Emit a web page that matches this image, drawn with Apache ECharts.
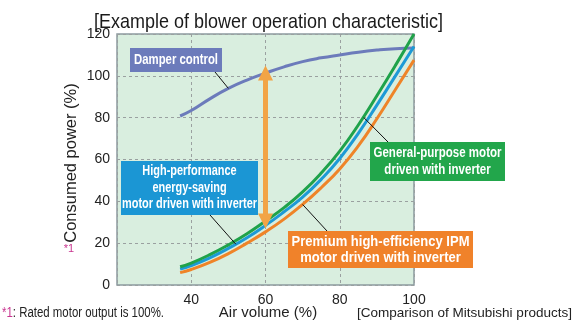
<!DOCTYPE html>
<html>
<head>
<meta charset="utf-8">
<script src="https://cdn.jsdelivr.net/npm/echarts@6/dist/echarts.min.js"></script>
<style>
  html, body { margin: 0; padding: 0; background: #ffffff; }
  #chart { width: 576px; height: 325px; }
</style>
</head>
<body>
<div id="chart"></div>
<script>
// Air volume (%) sample positions along each curve
const airVolume = [37, 40, 45, 50, 55, 60, 65, 70, 75, 80, 85, 90, 95, 100];

// Consumed power (%) for each control method
const damperControl   = [80.8, 83.4, 89, 94, 98, 101.3, 104.3, 106.8, 108.6, 110, 111.3, 112.3, 113, 113.3];
const generalPurpose  = [8.7, 10.5, 14.5, 19.2, 24.5, 30.6, 37, 44.5, 53.5, 64, 76.5, 90.5, 105, 120];
const highPerformance = [7.6, 9.3, 13, 17.5, 22.6, 28.5, 35, 42, 50.5, 60.5, 72.5, 86, 100, 114];
const premiumIPM      = [5.9, 7.4, 10.8, 15, 20, 25.4, 31.5, 38.5, 46.5, 55.5, 66.5, 79.5, 93.5, 107.5];

// Savings arrow at 60 % air volume: from damper curve down to inverter curve
const arrowX = 60;
const arrowTop = 101.3;
const arrowBottom = 30.6;

const pairs = (ys) => airVolume.map((x, i) => [x, ys[i]]);

const chart = echarts.init(document.getElementById('chart'));

const SANS = '"Liberation Sans", Arial, Helvetica, sans-serif';

// Text width helper, used to condense text to a given width
const ctx = document.createElement('canvas').getContext('2d');
function textWidth(text, font) { ctx.font = font; return ctx.measureText(text).width; }

function curve(name, ys, color) {
  return {
    name, type: 'line', data: pairs(ys), smooth: 0.5, showSymbol: false,
    lineStyle: { color, width: 3 }, itemStyle: { color }, silent: true, z: 3
  };
}

chart.setOption({
  animation: false,
  grid: {
    left: 117, right: 162, top: 34, bottom: 40,
    show: true, backgroundColor: '#d9eedf', borderColor: '#8c9ba0', borderWidth: 1.5
  },
  xAxis: {
    type: 'value', min: 20, max: 100, interval: 20,
    axisLine: { show: false }, axisTick: { show: false },
    axisLabel: {
      color: '#222', fontFamily: SANS, fontSize: 14, margin: 8,
      formatter: (v) => (v === 20 ? '' : String(v))
    },
    splitLine: { show: true, lineStyle: { color: '#9aa0a0', type: [3, 3], width: 1 } }
  },
  yAxis: {
    type: 'value', min: 0, max: 120, interval: 20,
    axisLine: { show: false }, axisTick: { show: false },
    axisLabel: { color: '#222', fontFamily: SANS, fontSize: 14, margin: 7 },
    splitLine: { show: true, lineStyle: { color: '#9aa0a0', type: [3, 3], width: 1 } }
  },
  series: [
    curve('Damper control', damperControl, '#6c7bbb'),
    curve('Premium high-efficiency IPM motor driven with inverter', premiumIPM, '#ef8428'),
    curve('High-performance energy-saving motor driven with inverter', highPerformance, '#1d9ad6'),
    curve('General-purpose motor driven with inverter', generalPurpose, '#1fa24a'),
    {
      name: 'saving', type: 'line', data: [], silent: true, z: 5,
      markLine: {
        silent: true, animation: false,
        symbol: ['triangle', 'triangle'], symbolSize: [15, 15],
        label: { show: false },
        lineStyle: { color: '#f2a446', width: 5, type: 'solid' },
        data: [[{ coord: [arrowX, arrowTop] }, { coord: [arrowX, arrowBottom] }]]
      }
    }
  ]
});

// Callout boxes with leader lines to their curves
const px = (x, y) => chart.convertToPixel({ gridIndex: 0 }, [x, y]);
const at = (ys, x) => ys[airVolume.indexOf(x)];

// A text line anchored at (x, y), horizontally squeezed by sx
function label(text, x, y, font, sx, fill, align) {
  return {
    type: 'text', x, y, scaleX: sx, z: 11,
    style: { text, fill, font, align: align || 'center', verticalAlign: 'middle' }
  };
}

function box(x, y, w, h, color, lines, lineGap, fontSize, fitWidth) {
  const font = 'bold ' + fontSize + 'px ' + SANS;
  const longest = Math.max(...lines.map((t) => textWidth(t, font)));
  const sx = fitWidth / longest;
  const cx = x + w / 2;
  const top = y + h / 2 - (lines.length - 1) * lineGap / 2;
  const children = [{ type: 'rect', shape: { x, y, width: w, height: h }, style: { fill: color }, z: 10 }];
  lines.forEach((t, i) => children.push(label(t, cx, top + i * lineGap, font, sx, '#ffffff')));
  return { type: 'group', children };
}

function leader(p1, p2) {
  return {
    type: 'line', z: 9,
    shape: { x1: p1[0], y1: p1[1], x2: p2[0], y2: p2[1] },
    style: { stroke: '#111', lineWidth: 1 }
  };
}

function fitted(text, x, y, font, width, fill, align) {
  return label(text, x, y, font, width / textWidth(text, font), fill, align);
}

const damperPt = px(50, at(damperControl, 50));
const bluePt = px(52, 19.5);
const greenPt = px(86.5, 80);
const orangePt = px(70, at(premiumIPM, 70));

const footFont = '14px ' + SANS;
const footScale = 162 / textWidth('*1: Rated motor output is 100%.', footFont);

chart.setOption({
  graphic: [
    fitted('[Example of blower operation characteristic]', 268.5, 22, '21px ' + SANS, 349, '#1a1a1a'),
    leader([215, 72], damperPt),
    leader([210, 215], bluePt),
    leader([388, 142], greenPt),
    leader([327, 231], orangePt),
    box(130, 48, 92, 24, '#6c7bbb', ['Damper control'], 16, 14.5, 84),
    box(121, 161, 137, 54, '#1b96d4', ['High-performance', 'energy-saving', 'motor driven with inverter'], 16.5, 14, 135),
    box(370, 142, 135, 39, '#22a64b', ['General-purpose motor', 'driven with inverter'], 17, 15.5, 128),
    box(288, 231, 185, 37, '#f0822a', ['Premium high-efficiency IPM', 'motor driven with inverter'], 16.5, 15.5, 178),
    {
      type: 'text', x: 71.5, y: 163, rotation: Math.PI / 2, z: 10,
      style: {
        text: 'Consumed power (%)', fill: '#222', font: '16.5px ' + SANS,
        align: 'center', verticalAlign: 'middle'
      }
    },
    {
      type: 'text', x: 69, y: 249, z: 10,
      style: { text: '*1', fill: '#c8358f', font: '11px ' + SANS, align: 'center', verticalAlign: 'middle' }
    },
    {
      type: 'text', x: 268, y: 313, z: 10,
      style: { text: 'Air volume (%)', fill: '#222', font: '15px ' + SANS, align: 'center', verticalAlign: 'middle' }
    },
    fitted('[Comparison of Mitsubishi products]', 572, 313, '13.5px ' + SANS, 215, '#222', 'right'),
    {
      type: 'text', x: 2, y: 313, scaleX: footScale, z: 10,
      style: {
        text: '{m|*1}: Rated motor output is 100%.', fill: '#222', font: footFont,
        align: 'left', verticalAlign: 'middle',
        rich: { m: { fill: '#c8358f', font: footFont } }
      }
    }
  ]
});
</script>
</body>
</html>
